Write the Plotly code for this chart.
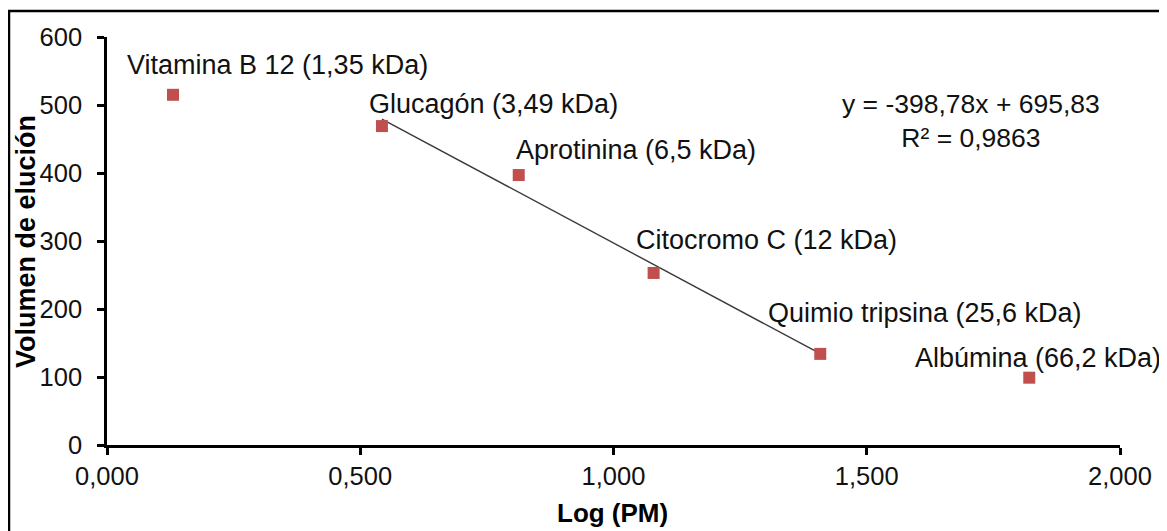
import math
import plotly.graph_objects as go

# ---- data ----
proteins = ["Vitamina B 12", "Glucagón", "Aprotinina", "Citocromo C", "Quimio tripsina", "Albúmina"]
mw_kda = [1.35, 3.49, 6.5, 12, 25.6, 66.2]
mw_labels = ["1,35", "3,49", "6,5", "12", "25,6", "66,2"]
elution_volume = [515, 469, 397, 253, 134, 99]
log_pm = [math.log10(v) for v in mw_kda]

# trendline (fitted on Glucagón .. Quimio tripsina)
trend_slope = -398.78
trend_intercept = 695.83
trend_r2 = 0.9863
trend_first, trend_last = 1, 4

x_ticks = [0, 0.5, 1.0, 1.5, 2.0]
y_ticks = [0, 100, 200, 300, 400, 500, 600]

# ---- label offsets (pixels, relative to marker) ----
label_shift = [(-48, 30), (-15, 22), (-5, 25), (-20, 33), (-54, 41), (-116, 20)]

W, H = 1167, 531
OFF = 8  # page body margin
L, R, T, B = 107, 47, 37, 86   # plot-area in page pixels
pw, ph = W - L - R, H - T - B

FONT = "Liberation Sans, Arial, sans-serif"
TXT = "#111111"

fig = go.Figure()

tx = [log_pm[trend_first], log_pm[trend_last]]
ty = [trend_slope * v + trend_intercept for v in tx]
fig.add_trace(go.Scatter(x=tx, y=ty, mode="lines",
                         line=dict(color="#3a3a3a", width=1.4),
                         hoverinfo="skip", showlegend=False))

fig.add_trace(go.Scatter(x=log_pm, y=elution_volume, mode="markers",
                         marker=dict(symbol="square", size=12, color="#C0504D",
                                     line=dict(width=0)),
                         showlegend=False, cliponaxis=False))

annotations = []
for name, lab, xv, yv, (dx, dy) in zip(proteins, mw_labels, log_pm, elution_volume, label_shift):
    annotations.append(dict(x=xv, y=yv, xref="x", yref="y",
                            text=f"{name} ({lab} kDa)", showarrow=False,
                            xanchor="left", yanchor="middle",
                            xshift=dx, yshift=dy,
                            font=dict(family=FONT, size=27, color=TXT)))

eq_text = f"y = {trend_slope:.2f}x + {trend_intercept:.2f}".replace(".", ",") + \
          "<br>R² = " + f"{trend_r2:.4f}".replace(".", ",")
annotations.append(dict(x=(971 - L) / pw, y=(445 - 120.5) / ph, xref="paper", yref="paper",
                        text=eq_text, showarrow=False, align="center",
                        xanchor="center", yanchor="middle",
                        font=dict(family=FONT, size=26.5, color=TXT)))

# axis titles
annotations.append(dict(x=(612 - L) / pw, y=(445 - 513) / ph, xref="paper", yref="paper",
                        text="<b>Log (PM)</b>", showarrow=False,
                        xanchor="center", yanchor="middle",
                        font=dict(family=FONT, size=26, color="#000000")))
annotations.append(dict(x=(26 - L) / pw, y=(445 - 242) / ph, xref="paper", yref="paper",
                        text="<b>Volumen de elución</b>", showarrow=False, textangle=-90,
                        xanchor="center", yanchor="middle",
                        font=dict(family=FONT, size=27, color="#000000")))

shapes = [dict(type="rect", xref="paper", yref="paper",
               x0=(9 - L) / pw, x1=(W + 10 - L) / pw,
               y0=(445 - (H + 10)) / ph, y1=(445 - 11) / ph,
               line=dict(color="black", width=2.5), fillcolor="rgba(0,0,0,0)", layer="below")]

fig.update_layout(
    width=W - OFF, height=H - OFF,
    margin=dict(l=L - OFF, r=R, t=T - OFF, b=B),
    paper_bgcolor="white", plot_bgcolor="white",
    separators=",.",
    font=dict(family=FONT, size=25, color=TXT),
    annotations=annotations, shapes=shapes,
    xaxis=dict(range=[0, 2], tickvals=x_ticks, tickformat=".3f",
               showgrid=False, zeroline=False,
               showline=True, linecolor="black", linewidth=2.5,
               ticks="outside", ticklen=7, tickwidth=2.5, tickcolor="black",
               tickfont=dict(family=FONT, size=25.5, color=TXT),
               ticklabelstandoff=0),
    yaxis=dict(range=[0, 600], tickvals=y_ticks,
               showgrid=False, zeroline=False,
               showline=True, linecolor="black", linewidth=2.5,
               ticks="outside", ticklen=7, tickwidth=2.5, tickcolor="black",
               tickfont=dict(family=FONT, size=25.5, color=TXT),
               ticklabelstandoff=10),
)

fig.write_html("out.html")
